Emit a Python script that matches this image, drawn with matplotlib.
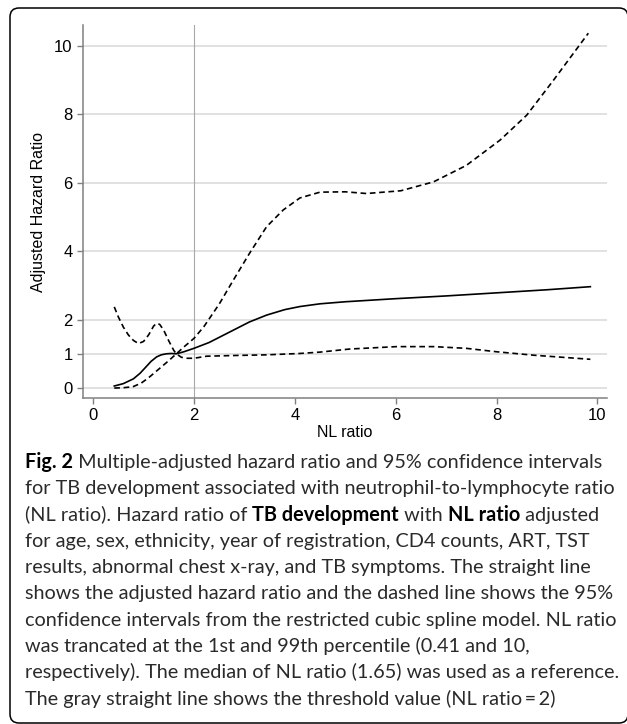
import matplotlib
matplotlib.use("Agg")
import matplotlib.pyplot as plt
from matplotlib.patches import FancyBboxPatch
from matplotlib.transforms import IdentityTransform

# ---------------- data ----------------
hr_x = [0.42, 0.6, 0.8, 0.93, 1.05, 1.15, 1.26, 1.35, 1.45, 1.55, 1.65, 1.8, 2.0, 2.3,
        2.78, 3.1, 3.44, 3.8, 4.1, 4.5, 5.0, 6.0, 7.0, 8.0, 9.0, 9.86]
hr_y = [0.06, 0.13, 0.27, 0.43, 0.62, 0.78, 0.91, 0.97, 1.0, 1.01, 1.0, 1.06, 1.16, 1.33,
        1.69, 1.93, 2.13, 2.29, 2.38, 2.46, 2.52, 2.61, 2.69, 2.78, 2.87, 2.96]

ci_a_x = [0.42, 0.6, 0.79, 0.95, 1.1, 1.3, 1.5, 1.65, 1.8, 2.0, 2.2, 2.5, 2.78, 3.1,
          3.44, 3.77, 4.1, 4.5, 5.0, 5.42, 6.1, 6.75, 7.4, 8.07, 8.6, 9.13, 9.82]
ci_a_y = [0.0, 0.01, 0.04, 0.14, 0.3, 0.55, 0.8, 1.0, 1.2, 1.45, 1.8, 2.45, 3.15, 3.93,
          4.71, 5.2, 5.55, 5.72, 5.73, 5.68, 5.76, 6.02, 6.5, 7.24, 7.97, 8.99, 10.36]

ci_b_x = [0.42, 0.5, 0.6, 0.7, 0.8, 0.9, 1.0, 1.1, 1.2, 1.26, 1.32, 1.4, 1.5, 1.6,
          1.65, 1.75, 1.85, 2.0, 2.25, 2.78, 3.44, 4.1, 4.5, 5.09, 6.02, 6.75, 7.4,
          8.0, 8.73, 9.86]
ci_b_y = [2.37, 2.08, 1.78, 1.55, 1.39, 1.30, 1.36, 1.55, 1.81, 1.89, 1.86, 1.69, 1.38, 1.10,
          1.0, 0.90, 0.87, 0.87, 0.93, 0.95, 0.97, 1.01, 1.05, 1.14, 1.21, 1.21, 1.16,
          1.06, 0.96, 0.84]

x_ticks = [0, 2, 4, 6, 8, 10]
y_ticks = [0, 1, 2, 4, 6, 8, 10]
threshold = 2
x_label = "NL ratio"
y_label = "Adjusted Hazard Ratio"

caption_lines = [
    [("Fig. 2", True), (" Multiple-adjusted hazard ratio and 95% confidence intervals", False)],
    [("for TB development associated with neutrophil-to-lymphocyte ratio", False)],
    [("(NL ratio). Hazard ratio of ", False), ("TB development", True), (" with ", False),
     ("NL ratio", True), (" adjusted", False)],
    [("for age, sex, ethnicity, year of registration, CD4 counts, ART, TST", False)],
    [("results, abnormal chest x-ray, and TB symptoms. The straight line", False)],
    [("shows the adjusted hazard ratio and the dashed line shows the 95%", False)],
    [("confidence intervals from the restricted cubic spline model. NL ratio", False)],
    [("was trancated at the 1st and 99th percentile (0.41 and 10,", False)],
    [("respectively). The median of NL ratio (1.65) was used as a reference.", False)],
    [("The gray straight line shows the threshold value (NL ratio\u2009=\u20092)", False)],
]

# ---------------- figure ----------------
W, H = 627, 724
fig = plt.figure(figsize=(W / 100, H / 100), dpi=100)
ax_l, ax_r, ax_t, ax_b = 83, 607, 25, 398
ax = fig.add_axes([ax_l / W, 1 - ax_b / H, (ax_r - ax_l) / W, (ax_b - ax_t) / H])

afont = "Liberation Sans"
ax.set_xlim(-0.2, 10.19)
ax.set_ylim(-0.29, 10.6)
ax.set_xticks(x_ticks)
ax.set_yticks(y_ticks)
ax.set_xticklabels([str(t) for t in x_ticks], fontfamily=afont, fontsize=12)
ax.set_yticklabels([str(t) for t in y_ticks], fontfamily=afont, fontsize=12)
ax.tick_params(direction="out", length=4.5, width=1.0, color="#808080", pad=3)
for s in ["top", "right"]:
    ax.spines[s].set_visible(False)
for s in ["left", "bottom"]:
    ax.spines[s].set_color("#808080")
    ax.spines[s].set_linewidth(1.1)

ax.grid(axis="y", color="#d9d9d9", linewidth=1.1)
ax.set_axisbelow(True)
ax.axvline(threshold, color="#a8a8a8", linewidth=0.8, zorder=1)

ax.plot(hr_x, hr_y, color="black", linewidth=1.2, zorder=3)
ax.plot(ci_a_x, ci_a_y, color="black", linewidth=1.2, linestyle=(0, (3.4, 2.2)), zorder=3)
ax.plot(ci_b_x, ci_b_y, color="black", linewidth=1.2, linestyle=(0, (3.4, 2.2)), zorder=3)

ax.set_xlabel(x_label, fontfamily=afont, fontsize=11.5, labelpad=1)
ax.set_ylabel(y_label, fontfamily=afont, fontsize=11.5, labelpad=6)

# border
border = FancyBboxPatch((10, H - 723), 618, 715,
                        boxstyle="round,pad=0,rounding_size=9",
                        transform=IdentityTransform(), fill=False,
                        edgecolor="black", linewidth=1.1)
fig.patches.append(border)

# caption
cfont = "Lato"
renderer = fig.canvas.get_renderer()
probe = fig.text(0, 0, "".join(s for s, _ in caption_lines[5]), fontfamily=cfont, fontsize=13)
w13 = probe.get_window_extent(renderer).width
probe.remove()
csize = 13 * 588 / w13

x0 = 25
base0 = 468
step = 26.3
for i, segs in enumerate(caption_lines):
    x = x0
    yb = H - (base0 + i * step)
    for s, bold in segs:
        t = fig.text(x, yb, s, transform=IdentityTransform(), fontfamily=cfont,
                     fontsize=csize, fontweight="bold" if bold else "normal",
                     color="black" if bold else "#2a2a2a", va="baseline", ha="left")
        x += t.get_window_extent(renderer).width

fig.savefig("out.png", dpi=100)
